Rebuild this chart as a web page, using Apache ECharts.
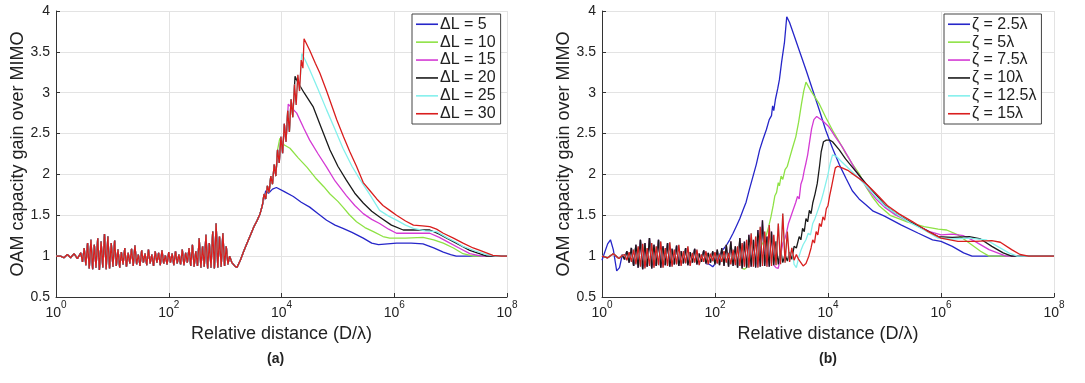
<!DOCTYPE html>
<html>
<head>
<meta charset="utf-8">
<script src="https://cdn.jsdelivr.net/npm/echarts@6/dist/echarts.min.js"></script>
<style>
html,body{margin:0;padding:0;background:#fff;}
#chart{width:1085px;height:383px;}
</style>
</head>
<body>
<div id="chart"></div>
<script>
// ---------- DATA ----------
// x values are log10(D/lambda)
const xTicks = [0, 2, 4, 6, 8];
const yTicks = [0.5, 1, 1.5, 2, 2.5, 3, 3.5, 4];
const namesA = ['\u0394L = 5', '\u0394L = 10', '\u0394L = 15', '\u0394L = 20', '\u0394L = 25', '\u0394L = 30'];
const namesB = ['\u03B6 = 2.5\u03BB', '\u03B6 = 5\u03BB', '\u03B6 = 7.5\u03BB', '\u03B6 = 10\u03BB', '\u03B6 = 12.5\u03BB', '\u03B6 = 15\u03BB'];
const colors = ['#2626c9', '#8ee245', '#d43ad4', '#1a1a1a', '#84f0ec', '#d91e1e'];

// (a) shared oscillating part + common rise
const oscExpA = [0.00,0.08,0.14,0.20,0.26,0.32,0.38,0.44,0.47,0.50,0.53,0.56,0.59,0.62,0.65,0.68,0.71,0.74,0.77,0.80,0.83,0.86,0.89,0.92,0.95,0.98,1.01,1.04,1.07,1.10,1.13,1.16,1.19,1.22,1.25,1.28,1.31,1.34,1.37,1.40,1.43,1.46,1.49,1.52,1.55,1.58,1.61,1.64,1.67,1.70,1.73,1.76,1.79,1.82,1.85,1.88,1.91,1.94,1.97,2.00,2.03,2.06,2.09,2.12,2.15,2.18,2.21,2.24,2.27,2.30,2.33,2.36,2.39,2.42,2.45,2.48,2.51,2.54,2.57,2.60,2.63,2.66,2.69,2.72,2.75,2.78,2.81,2.84,2.87,2.90,2.93,2.96,2.99,3.02,3.05,3.08,3.12,3.17,3.21,3.27,3.33,3.39,3.45,3.51,3.57,3.62,3.66,3.69,3.72,3.75,3.78,3.81,3.84,3.87,3.90,3.93,3.96,3.99,4.02,4.05,4.08,4.11,4.14,4.17,4.20,4.23,4.26,4.29,4.32,4.35,4.38,4.40];
const oscValA = [1.00,1.00,0.98,1.02,0.98,1.03,0.97,1.04,0.93,1.10,0.89,1.16,0.85,1.20,0.84,1.14,0.86,1.22,0.83,1.18,0.86,1.27,0.84,1.24,0.85,1.16,0.87,1.19,0.88,1.08,0.86,1.05,0.90,1.10,0.87,1.04,0.91,1.09,0.88,1.13,0.90,1.02,0.88,1.07,0.92,1.03,0.89,1.08,0.91,1.02,0.88,1.06,0.92,1.04,0.89,1.07,0.91,1.01,0.90,1.05,0.92,1.03,0.89,1.06,0.91,1.02,0.90,1.08,0.89,1.04,0.92,1.10,0.88,1.14,0.87,1.06,0.88,1.22,0.86,1.12,0.87,1.26,0.85,1.16,0.86,1.30,0.85,1.40,0.86,1.24,0.87,1.28,0.88,1.12,0.90,1.00,0.92,0.88,0.86,0.95,1.06,1.16,1.26,1.36,1.44,1.52,1.62,1.76,1.70,1.86,1.78,1.98,1.88,2.12,1.98,2.30,2.14,2.46,2.26,2.62,2.40,2.78,2.52,2.92,2.70,3.10,2.85,3.22,3.02,3.40,3.30,3.66];
const cutA = [3.66, 3.93, 4.08, 4.20, 4.32, 4.40];
const tailA5 = [[3.72,1.80],[3.77,1.77],[3.84,1.82],[3.91,1.84],[4.05,1.79],[4.21,1.73],[4.35,1.66],[4.50,1.60],[4.65,1.52],[4.80,1.44],[4.95,1.38],[5.09,1.34],[5.25,1.29],[5.45,1.22],[5.60,1.16],[5.72,1.14],[6.04,1.16],[6.30,1.16],[6.51,1.15],[6.70,1.10],[6.87,1.05],[7.00,1.02],[7.10,1.00],[8.00,1.00]];
const tailA10 = [[3.97,2.44],[4.05,2.36],[4.15,2.32],[4.30,2.20],[4.45,2.09],[4.60,1.96],[4.75,1.85],[4.86,1.76],[5.00,1.67],[5.09,1.60],[5.20,1.51],[5.33,1.42],[5.48,1.35],[5.63,1.30],[5.80,1.24],[5.92,1.22],[6.20,1.22],[6.51,1.23],[6.70,1.20],[6.87,1.16],[7.05,1.10],[7.22,1.03],[7.40,1.00],[8.00,1.00]];
const tailA15 = [[4.12,2.86],[4.20,2.80],[4.27,2.75],[4.40,2.56],[4.50,2.42],[4.65,2.25],[4.80,2.09],[4.95,1.92],[5.15,1.74],[5.30,1.62],[5.45,1.52],[5.60,1.45],[5.74,1.40],[5.90,1.33],[6.04,1.28],[6.30,1.28],[6.63,1.28],[6.80,1.23],[6.93,1.18],[7.15,1.10],[7.34,1.03],[7.55,1.00],[8.00,1.00]];
const tailA20 = [[4.24,3.20],[4.28,3.14],[4.31,3.12],[4.40,3.00],[4.56,2.83],[4.70,2.58],[4.86,2.30],[5.00,2.10],[5.15,1.93],[5.30,1.77],[5.45,1.65],[5.60,1.55],[5.74,1.48],[5.95,1.38],[6.16,1.32],[6.40,1.32],[6.63,1.32],[6.80,1.27],[6.93,1.22],[7.15,1.14],[7.34,1.07],[7.64,1.00],[8.00,1.00]];
const tailA25 = [[4.36,3.48],[4.42,3.40],[4.50,3.28],[4.65,3.04],[4.80,2.79],[4.95,2.55],[5.09,2.32],[5.25,2.10],[5.39,1.94],[5.57,1.75],[5.74,1.56],[5.90,1.49],[6.04,1.44],[6.20,1.38],[6.34,1.34],[6.55,1.31],[6.75,1.30],[6.95,1.22],[7.10,1.17],[7.22,1.12],[7.45,1.06],[7.64,1.02],[7.80,1.00],[8.00,1.00]];
const tailA30 = [[4.50,3.52],[4.60,3.36],[4.68,3.24],[4.80,3.02],[4.98,2.67],[5.10,2.46],[5.21,2.28],[5.33,2.10],[5.45,1.90],[5.57,1.80],[5.69,1.70],[5.80,1.62],[5.92,1.56],[6.04,1.50],[6.20,1.43],[6.34,1.38],[6.50,1.37],[6.63,1.36],[6.75,1.33],[6.87,1.28],[7.05,1.22],[7.22,1.16],[7.40,1.10],[7.52,1.07],[7.75,1.01],[7.90,1.00],[8.00,1.00]];

// (b) early parts and two oscillating sequences
const earlyB = [[0.00,1.00],[0.10,0.98],[0.20,1.03],[0.30,0.97],[0.36,1.01]];
const earlyBlueB = [[0.00,0.95],[0.05,1.05],[0.10,1.15],[0.15,1.20],[0.20,1.08],[0.26,0.82],[0.31,0.86],[0.36,1.02]];
const noiseExpB = [0.40,0.44,0.48,0.52,0.56,0.60,0.64,0.68,0.72,0.76,0.80,0.84,0.88,0.92,0.96,1.00,1.04,1.08,1.12,1.16,1.20,1.24,1.28,1.32,1.36,1.40,1.44,1.48,1.52,1.56,1.60,1.64,1.68,1.72,1.76,1.80,1.84,1.88,1.92,1.96,2.00,2.04,2.08,2.12,2.16,2.20,2.24,2.28,2.32,2.36,2.40,2.44,2.48,2.52,2.56,2.60,2.64,2.68,2.72,2.76,2.80,2.84,2.88,2.92,2.96,3.00,3.04,3.08,3.12,3.16,3.20,3.24,3.28,3.32,3.36,3.40,3.44,3.48];
const noiseValB1 = [1.02,0.95,1.05,0.93,1.08,0.90,1.12,0.87,1.15,0.85,1.10,0.88,1.16,0.86,1.12,0.89,1.18,0.86,1.10,0.88,1.17,0.87,1.08,0.90,1.14,0.88,1.06,0.91,1.12,0.88,1.04,0.92,1.08,0.89,1.02,0.93,1.06,0.90,1.03,0.94,1.05,0.91,1.02,0.93,1.06,0.92,1.04,0.90,1.08,0.89,1.12,0.88,1.16,0.87,1.20,0.86,1.28,0.87,1.24,0.86,1.36,0.88,1.30,0.87,1.38,0.88,1.26,0.89,1.40,0.90,1.52,0.92,1.30,0.93,1.10,0.95,1.02,0.96];
const noiseValB2 = [0.96,1.06,0.92,1.10,0.88,1.14,0.86,1.20,0.84,1.16,0.87,1.22,0.85,1.14,0.88,1.20,0.86,1.12,0.89,1.16,0.87,1.09,0.90,1.13,0.88,1.06,0.91,1.10,0.89,1.05,0.92,1.09,0.90,1.03,0.93,1.07,0.91,1.04,0.92,1.06,0.90,1.08,0.89,1.10,0.88,1.14,0.87,1.18,0.88,1.12,0.86,1.22,0.85,1.18,0.86,1.26,0.87,1.20,0.86,1.32,0.87,1.44,0.88,1.24,0.87,1.30,0.89,1.18,0.90,1.08,0.92,1.02,0.94,1.05,0.95,1.00,0.93,0.96];
const cutB = [1.84, 2.48, 3.04, 3.32, 3.36, 3.48];
const tailB25 = [[1.90,0.90],[1.96,0.87],[2.02,0.92],[2.08,1.02],[2.14,1.08],[2.20,1.13],[2.26,1.20],[2.32,1.28],[2.38,1.37],[2.44,1.46],[2.50,1.57],[2.55,1.66],[2.61,1.82],[2.67,1.97],[2.73,2.12],[2.79,2.30],[2.85,2.43],[2.91,2.55],[2.96,2.67],[3.00,2.72],[3.02,2.84],[3.04,2.78],[3.07,2.92],[3.11,3.05],[3.14,3.16],[3.18,3.38],[3.23,3.62],[3.27,3.93],[3.32,3.86],[3.40,3.70],[3.49,3.52],[3.62,3.26],[3.73,3.03],[3.85,2.78],[3.96,2.54],[4.08,2.32],[4.20,2.12],[4.32,1.95],[4.43,1.80],[4.55,1.70],[4.67,1.63],[4.80,1.55],[5.00,1.49],[5.30,1.38],[5.60,1.28],[5.85,1.20],[6.00,1.18],[6.20,1.12],[6.40,1.04],[6.55,1.00],[8.00,1.00]];
const tailB5 = [[2.52,0.84],[2.56,0.86],[2.62,0.98],[2.68,1.02],[2.74,0.95],[2.80,1.10],[2.86,1.18],[2.90,1.24],[2.95,1.36],[2.99,1.48],[3.03,1.62],[3.06,1.74],[3.09,1.78],[3.12,1.90],[3.14,1.86],[3.17,1.98],[3.20,1.94],[3.24,2.06],[3.28,2.10],[3.32,2.20],[3.37,2.32],[3.43,2.46],[3.48,2.64],[3.53,2.86],[3.57,3.02],[3.61,3.13],[3.70,3.02],[3.84,2.87],[3.96,2.70],[4.08,2.54],[4.20,2.40],[4.31,2.26],[4.43,2.13],[4.55,2.01],[4.67,1.85],[4.78,1.73],[4.90,1.62],[5.10,1.50],[5.40,1.42],[5.70,1.36],[5.95,1.33],[6.10,1.32],[6.30,1.26],[6.50,1.16],[6.70,1.06],[6.85,1.00],[8.00,1.00]];
const tailB75 = [[3.08,0.86],[3.12,0.85],[3.16,1.00],[3.20,1.16],[3.24,1.22],[3.27,1.30],[3.30,1.40],[3.34,1.48],[3.37,1.54],[3.40,1.52],[3.43,1.66],[3.46,1.73],[3.49,1.70],[3.52,1.88],[3.55,1.94],[3.58,2.05],[3.61,2.14],[3.64,2.24],[3.67,2.38],[3.71,2.56],[3.75,2.67],[3.80,2.71],[3.90,2.66],[4.02,2.58],[4.13,2.46],[4.25,2.34],[4.37,2.20],[4.49,2.05],[4.60,1.93],[4.72,1.81],[4.85,1.70],[5.00,1.60],[5.20,1.50],[5.50,1.40],[5.80,1.30],[6.00,1.26],[6.20,1.27],[6.40,1.25],[6.60,1.18],[6.85,1.08],[7.15,1.00],[8.00,1.00]];
const tailB10 = [[3.36,0.96],[3.40,1.12],[3.44,1.10],[3.49,1.24],[3.52,1.20],[3.55,1.34],[3.58,1.30],[3.61,1.46],[3.64,1.42],[3.67,1.56],[3.70,1.52],[3.73,1.65],[3.77,1.76],[3.81,1.89],[3.85,2.10],[3.88,2.28],[3.92,2.40],[3.97,2.42],[4.03,2.42],[4.08,2.40],[4.20,2.30],[4.31,2.19],[4.43,2.09],[4.55,1.99],[4.67,1.89],[4.85,1.75],[5.00,1.63],[5.20,1.52],[5.45,1.42],[5.70,1.33],[5.95,1.24],[6.20,1.23],[6.50,1.24],[6.70,1.21],[6.90,1.12],[7.10,1.04],[7.25,1.00],[8.00,1.00]];
const tailB125 = [[3.40,0.90],[3.44,0.86],[3.48,0.98],[3.52,1.07],[3.56,1.14],[3.61,1.20],[3.65,1.28],[3.69,1.26],[3.73,1.40],[3.77,1.46],[3.80,1.44],[3.84,1.60],[3.88,1.68],[3.92,1.78],[3.96,1.89],[4.00,2.00],[4.04,2.14],[4.08,2.24],[4.15,2.22],[4.25,2.15],[4.40,2.05],[4.55,1.95],[4.70,1.84],[4.85,1.73],[5.00,1.62],[5.20,1.52],[5.45,1.41],[5.70,1.32],[5.95,1.22],[6.20,1.21],[6.50,1.22],[6.80,1.20],[7.00,1.12],[7.20,1.04],[7.35,1.00],[8.00,1.00]];
const tailB15 = [[3.52,0.92],[3.56,0.88],[3.61,0.91],[3.66,1.00],[3.70,1.10],[3.73,1.20],[3.76,1.16],[3.79,1.30],[3.82,1.26],[3.85,1.40],[3.88,1.36],[3.91,1.48],[3.94,1.44],[3.97,1.58],[4.00,1.62],[4.03,1.74],[4.06,1.84],[4.10,1.98],[4.13,2.08],[4.17,2.10],[4.25,2.08],[4.35,2.05],[4.43,2.01],[4.55,1.95],[4.67,1.89],[4.80,1.80],[4.90,1.73],[5.05,1.62],[5.25,1.52],[5.50,1.42],[5.75,1.31],[6.00,1.22],[6.30,1.18],[6.60,1.18],[6.90,1.19],[7.05,1.17],[7.25,1.08],[7.40,1.02],[7.55,1.00],[8.00,1.00]];

// ---------- BUILD ----------
function pairs(xs, ys) { return xs.map((x, i) => [x, ys[i]]); }
const noiseA = pairs(oscExpA, oscValA);
const noiseB1 = pairs(noiseExpB, noiseValB1);
const noiseB2 = pairs(noiseExpB, noiseValB2);
const tailsA = [tailA5, tailA10, tailA15, tailA20, tailA25, tailA30];
const tailsB = [tailB25, tailB5, tailB75, tailB10, tailB125, tailB15];
const earlyForB = [earlyBlueB, earlyB, earlyB, earlyB, earlyB, earlyB];
const noiseForB = [noiseB2, noiseB2, noiseB2, noiseB2, noiseB1, noiseB1];

const FONT = '"Liberation Sans", Arial, Helvetica, sans-serif';
const series = [];
namesA.forEach((n, i) => {
  series.push({
    name: n, type: 'line', xAxisIndex: 0, yAxisIndex: 0,
    data: noiseA.filter(p => p[0] <= cutA[i]).concat(tailsA[i]),
    showSymbol: false, symbol: 'none', smooth: false,
    lineStyle: { color: colors[i], width: 1.3 }, itemStyle: { color: colors[i] }
  });
});
namesB.forEach((n, i) => {
  series.push({
    name: n, type: 'line', xAxisIndex: 1, yAxisIndex: 1,
    data: earlyForB[i].concat(noiseForB[i].filter(p => p[0] <= cutB[i]), tailsB[i]),
    showSymbol: false, symbol: 'none', smooth: false,
    lineStyle: { color: colors[i], width: 1.3 }, itemStyle: { color: colors[i] }
  });
});

function xAxis(idx) {
  return {
    type: 'value', gridIndex: idx, min: xTicks[0], max: xTicks[xTicks.length - 1], interval: 2,
    name: 'Relative distance (D/\u03BB)', nameLocation: 'middle', nameGap: 15,
    nameTextStyle: { fontFamily: FONT, fontSize: 18, color: '#222' },
    axisLine: { show: true, lineStyle: { color: '#333', width: 1 } },
    axisTick: { show: true, inside: true, length: 4, lineStyle: { color: '#333' } },
    splitLine: { show: true, lineStyle: { color: '#e3e3e3', width: 1 } },
    axisLabel: {
      margin: 3, fontFamily: FONT,
      formatter: v => '{b|10}{s|' + v + '}',
      rich: {
        b: { fontSize: 14, color: '#222', fontFamily: FONT, verticalAlign: 'bottom', padding: [6, 0, 0, 0] },
        s: { fontSize: 10, color: '#222', fontFamily: FONT, verticalAlign: 'top' }
      }
    }
  };
}
function yAxis(idx) {
  return {
    type: 'value', gridIndex: idx, min: yTicks[0], max: yTicks[yTicks.length - 1], interval: 0.5,
    name: 'OAM capacity gain over MIMO', nameLocation: 'middle', nameGap: 29, nameRotate: 90,
    nameTextStyle: { fontFamily: FONT, fontSize: 18, color: '#222' },
    axisLine: { show: true, lineStyle: { color: '#333', width: 1 } },
    axisTick: { show: true, inside: true, length: 4, lineStyle: { color: '#333' } },
    splitLine: { show: true, lineStyle: { color: '#e3e3e3', width: 1 } },
    axisLabel: { fontFamily: FONT, fontSize: 14, color: '#222', margin: 6 }
  };
}
function legend(names, left) {
  return {
    data: names, orient: 'vertical', left: left, top: 14,
    icon: 'rect', itemWidth: 22, itemHeight: 1.6, itemGap: 1.4,
    backgroundColor: '#fff', borderColor: '#444', borderWidth: 1, borderRadius: 0,
    padding: [2, 5, 2, 4],
    textStyle: { fontFamily: FONT, fontSize: 16, color: '#222', lineHeight: 16.5, padding: [0, 0, 0, -3] }
  };
}

const chart = echarts.init(document.getElementById('chart'), null, { renderer: 'canvas' });
chart.setOption({
  animation: false,
  backgroundColor: '#fff',
  grid: [
    { left: 56, right: 578, top: 11, bottom: 86 },
    { left: 602, right: 31, top: 11, bottom: 86 }
  ],
  xAxis: [xAxis(0), xAxis(1)],
  yAxis: [yAxis(0), yAxis(1)],
  legend: [legend(namesA, 412), legend(namesB, 944)],
  graphic: [
    { type: 'text', left: 267, top: 352, style: { text: '(a)', font: 'bold 14px ' + FONT, fill: '#222' } },
    { type: 'text', left: 819, top: 352, style: { text: '(b)', font: 'bold 14px ' + FONT, fill: '#222' } }
  ],
  series: series
});
</script>
</body>
</html>
